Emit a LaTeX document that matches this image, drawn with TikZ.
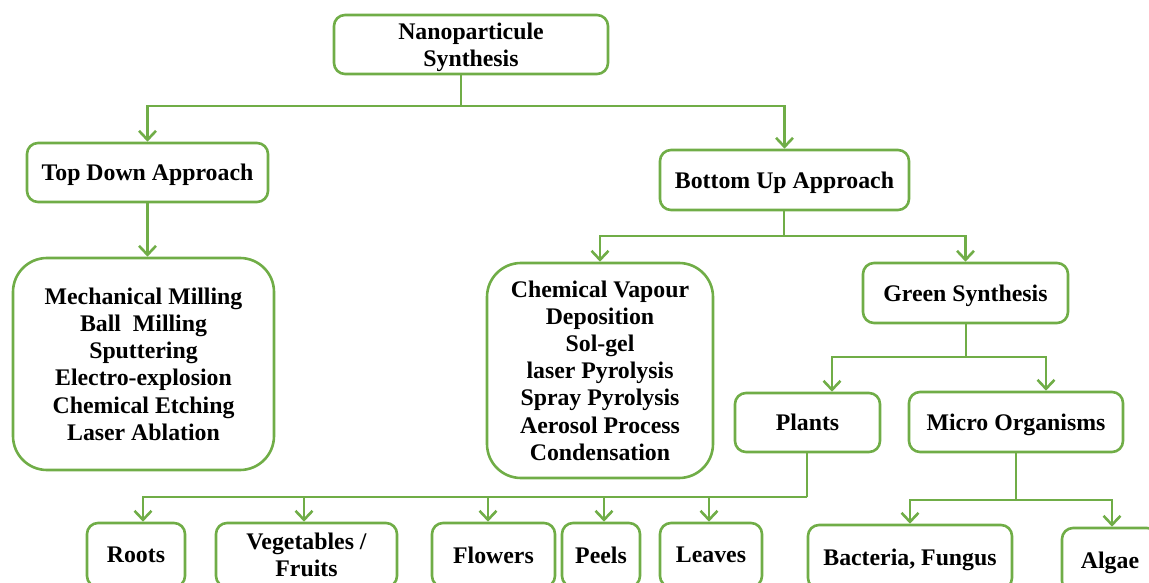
\documentclass[tikz,border=0pt]{standalone}
\usepackage{fontspec}
\setmainfont{Liberation Serif}
\usetikzlibrary{arrows.meta}
\definecolor{leafgreen}{RGB}{112,173,71}
\tikzset{
    box/.style={draw=leafgreen, line width=2.6pt, rounded corners=11pt, align=center, inner sep=0pt,
        text depth=-3pt, font=\bfseries\fontsize{23.8}{27.2}\selectfont},
    bigbox/.style={box, rounded corners=34pt},
    link/.style={draw=leafgreen, line width=2.6pt},
    arr/.style={link, -{Straight Barb[length=9pt,width=17pt]}}}

\begin{document}
\begin{tikzpicture}[x=1pt, y=-1pt]

            \useasboundingbox (0,0) rectangle (1149,583);

            \node[box, minimum width=274pt, minimum height=59pt] (NS) at (471,44.5) {Nanoparticule\\Synthesis};
            \node[box, minimum width=241pt, minimum height=59pt] (TD) at (147.5,172.5) {Top Down Approach};
            \node[box, minimum width=249pt, minimum height=60pt] (BU) at (784.5,180) {Bottom Up Approach};
            \node[bigbox, minimum width=261pt, minimum height=212pt] (TDL) at (143.5,364)
                {Mechanical Milling\\Ball~ Milling\\Sputtering\\Electro-explosion\\Chemical Etching\\Laser Ablation};
            \node[bigbox, minimum width=226pt, minimum height=215pt] (CVD) at (600,370.5)
                {Chemical Vapour\\Deposition\\Sol-gel\\laser Pyrolysis\\Spray Pyrolysis\\Aerosol Process\\Condensation};
            \node[box, minimum width=205pt, minimum height=60pt] (GS) at (965.5,293) {Green Synthesis};
            \node[box, minimum width=145pt, minimum height=59pt] (PL) at (807.5,422.5) {Plants};
            \node[box, minimum width=214pt, minimum height=60pt] (MO) at (1016,422) {Micro Organisms};

            % bottom row
            \node[box, minimum width=98pt, minimum height=64pt] (RT) at (136,555) {Roots};
            \node[box, minimum width=181pt, minimum height=64pt] (VF) at (306.5,555) {Vegetables /\\Fruits};
            \node[box, minimum width=123pt, minimum height=64pt] (FL) at (493.5,555) {Flowers};
            \node[box, minimum width=78pt, minimum height=64pt] (PE) at (601,555) {Peels};
            \node[box, minimum width=102pt, minimum height=64pt] (LV) at (711,555) {Leaves};
            \node[box, minimum width=204pt, minimum height=64pt] (BF) at (910,557) {Bacteria, Fungus};
            \node[box, minimum width=96pt, minimum height=64pt] (AL) at (1110,560) {Algae};

            \coordinate (j1) at (461,106);
            \coordinate (j2) at (784,236);
            \coordinate (j3) at (966,357);
            \coordinate (j4) at (807,497);
            \coordinate (j5) at (1016,500);

            \draw[link] (NS.south -| j1) -- (j1);
            \draw[arr] (j1) -| (TD.north);
            \draw[arr] (j1) -| (BU.north);
            \draw[arr] (TD.south) -- (TD.south |- TDL.north);

            \draw[link] (BU.south -| j2) -- (j2);
            \draw[arr] (j2) -| (CVD.north);
            \draw[arr] (j2) -| (GS.north);

            \draw[link] (GS.south -| j3) -- (j3);
            \draw[arr] (j3) -| ([xshift=24.5pt]PL.north);
            \draw[arr] (j3) -| ([xshift=30pt]MO.north);

            \draw[link] (PL.south -| j4) -- (j4);
            \foreach \n/\dx in {RT/7,VF/-2.5,FL/-5.5,PE/3,LV/-2}
                \draw[arr] (j4) -| ([xshift=\dx pt]\n.north);

            \draw[link] (MO.south -| j5) -- (j5);
            \draw[arr] (j5) -| (BF.north);
            \draw[arr] (j5) -| ([xshift=2pt]AL.north);

        \end{tikzpicture}
\end{document}
